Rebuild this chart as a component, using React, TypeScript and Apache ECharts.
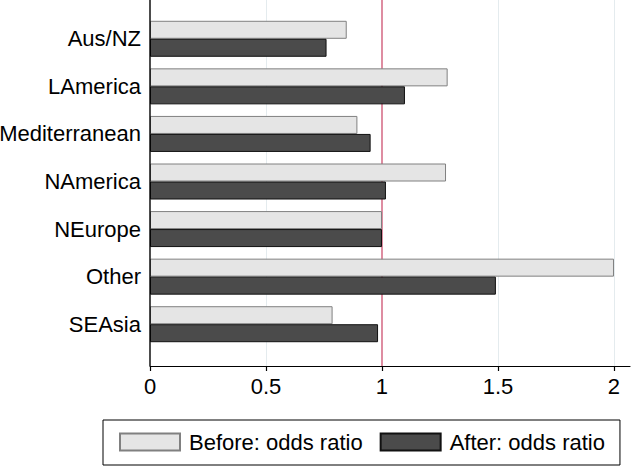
import React, { useEffect, useRef } from "react";
import * as echarts from "echarts";

const categories = ["Aus/NZ", "LAmerica", "Mediterranean", "NAmerica", "NEurope", "Other", "SEAsia"];
const beforeValues = [0.848, 1.283, 0.894, 1.276, 1.0, 2.0, 0.787];
const afterValues = [0.761, 1.099, 0.951, 1.017, 1.0, 1.491, 0.983];
const tickValues = [0, 0.5, 1, 1.5, 2];
const gridLineValues = [0.5, 1.5, 2];
const referenceValue = 1;

const FONT = "'Liberation Sans', Arial, Helvetica, sans-serif";

export default function App() {
  const ref = useRef<HTMLDivElement>(null);
  useEffect(() => {
    if (!ref.current) return;
    const chart = echarts.init(ref.current, null, { renderer: "svg" });
    const xMax = 2.069;
    chart.setOption({
      animation: false,
      backgroundColor: "#ffffff",
      textStyle: { fontFamily: FONT },
      grid: [
        { left: 150, right: 2, top: 0, height: 366, containLabel: false, outerBoundsMode: "none" },
        { left: 150, right: 2, top: 15, height: 333, containLabel: false, outerBoundsMode: "none" },
      ],
      graphic: [
        {
          type: "line",
          z: 100,
          silent: true,
          shape: { x1: 150, y1: 0, x2: 150, y2: 366 },
          style: { stroke: "#000", lineWidth: 1.4 },
        },
      ],
      xAxis: [
        {
          type: "value",
          gridIndex: 0,
          min: 0,
          max: xMax,
          axisLine: { show: true, onZero: false, lineStyle: { color: "#000", width: 1.2 } },
          axisTick: { show: true, length: 5, customValues: tickValues, lineStyle: { color: "#000", width: 1.2 } },
          axisLabel: {
            show: true,
            customValues: tickValues,
            fontSize: 22,
            color: "#000",
            fontFamily: FONT,
            margin: 9,
          },
          splitLine: { show: false },
        },
        {
          type: "value",
          gridIndex: 1,
          min: 0,
          max: xMax,
          show: false,
        },
      ],
      yAxis: [
        {
          type: "value",
          gridIndex: 0,
          min: 0,
          max: 1,
          axisLine: { show: false },
          axisTick: { show: false },
          axisLabel: { show: false },
          splitLine: { show: false },
        },
        {
          type: "category",
          gridIndex: 1,
          data: categories,
          inverse: true,
          axisLine: { show: false },
          axisTick: { show: false },
          axisLabel: { fontSize: 22, color: "#000", fontFamily: FONT, margin: 9 },
          splitLine: { show: false },
        },
      ],
      legend: {
        left: 103,
        top: 420,
        orient: "horizontal",
        data: ["Before: odds ratio", "After: odds ratio"],
        itemWidth: 60,
        itemHeight: 17,
        itemGap: 17,
        padding: [11, 15, 12, 16],
        borderColor: "#000",
        borderWidth: 1,
        borderRadius: 0,
        icon: "rect",
        textStyle: { fontSize: 22, color: "#000", fontFamily: FONT, padding: [0, 0, 0, 4] },
      },
      series: [
        {
          type: "line",
          xAxisIndex: 0,
          yAxisIndex: 0,
          data: [],
          silent: true,
          z: 0,
          markLine: {
            silent: true,
            z: 0,
            symbol: ["none", "none"],
            label: { show: false },
            data: [
              ...gridLineValues.map((v) => ({ xAxis: v, lineStyle: { color: "#e4ebee", width: 1, type: "solid" } })),
              { xAxis: referenceValue, lineStyle: { color: "#d6708a", width: 1.6, type: "solid" } },
            ],
          },
        },
        {
          name: "Before: odds ratio",
          type: "bar",
          xAxisIndex: 1,
          yAxisIndex: 1,
          z: 5,
          data: beforeValues,
          barWidth: 18,
          barGap: "0%",
          itemStyle: { color: "#e5e5e5", borderColor: "#808080", borderWidth: 1 },
        },
        {
          name: "After: odds ratio",
          type: "bar",
          xAxisIndex: 1,
          yAxisIndex: 1,
          z: 5,
          data: afterValues,
          barWidth: 18,
          barGap: "0%",
          itemStyle: { color: "#4b4b4b", borderColor: "#111", borderWidth: 1 },
        },
      ],
    });
    return () => chart.dispose();
  }, []);
  return <div ref={ref} style={{ position: "fixed", left: 0, top: 0, width: 632, height: 468 }} />;
}
